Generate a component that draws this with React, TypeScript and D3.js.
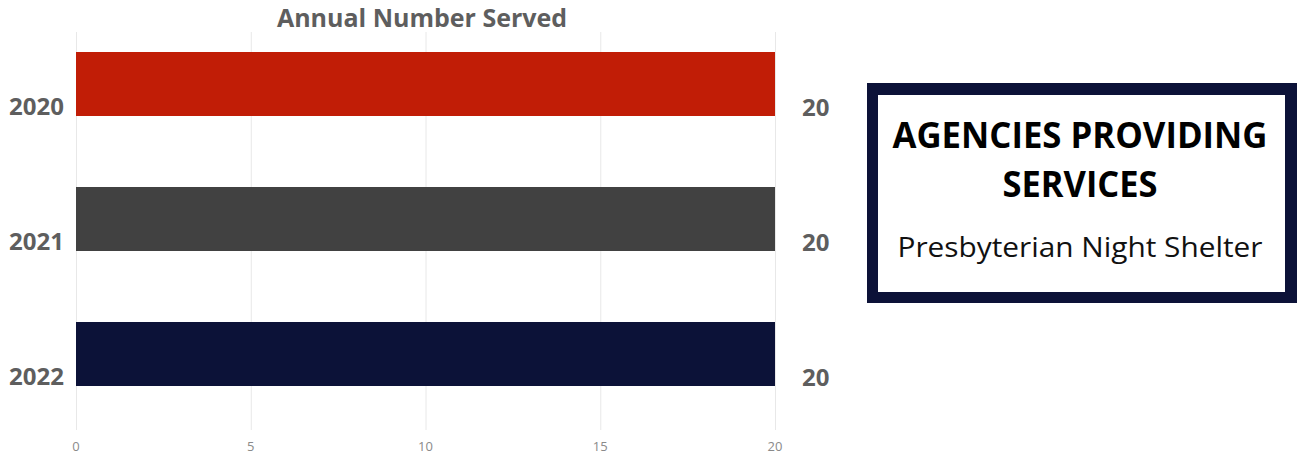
import React from "react";
import * as d3 from "d3";

const years = ["2020", "2021", "2022"];
const values = [20, 20, 20];
const barColors = ["#C11D06", "#414141", "#0C1238"];
const xTicks = [0, 5, 10, 15, 20];
const chartTitle = "Annual Number Served";
const boxTitleLines = ["AGENCIES PROVIDING", "SERVICES"];
const boxAgencies = ["Presbyterian Night Shelter"];

export default function App() {
  const W = 1297, H = 457;
  const x = d3.scaleLinear().domain([0, 20]).range([76, 775]);
  const y = d3.scaleBand().domain(years).range([52, 386]).paddingInner(0.526).paddingOuter(0);
  const font = "'Open Sans', sans-serif";
  const labelColor = "#5e5e5e";
  const titleLens = [375, 155];
  return (
    <svg width={W} height={H} style={{ position: "absolute", left: 0, top: 0, background: "#fff" }}>
      {xTicks.map((t) => (
        <g key={t}>
          <line x1={x(t) + 0.5} x2={x(t) + 0.5} y1={32} y2={430} stroke="#e8e8e8" strokeWidth={1} />
          <text x={x(t)} y={451} textAnchor="middle" fontFamily={font} fontSize={13} fill="#8a8a8a">{t}</text>
        </g>
      ))}
      <text x={422} y={27} textAnchor="middle" fontFamily={font} fontWeight={700} fontSize={25} fill={labelColor}>{chartTitle}</text>
      {years.map((yr, i) => {
        const y0 = y(yr)!;
        const bh = y.bandwidth();
        return (
          <g key={yr}>
            <rect x={x(0)} y={y0} width={x(values[i]) - x(0)} height={bh} fill={barColors[i]} />
            <text x={64} y={y0 + bh - 1} textAnchor="end" fontFamily={font} fontWeight={700} fontSize={24} fill={labelColor}>{yr}</text>
            <text x={802} y={y0 + bh} textAnchor="start" fontFamily={font} fontWeight={700} fontSize={24} fill={labelColor}>{values[i]}</text>
          </g>
        );
      })}
      <rect x={867} y={83} width={430} height={220} fill="#0C1238" />
      <rect x={878} y={95} width={407} height={197} fill="#fff" />
      {boxTitleLines.map((l, i) => (
        <text key={l} x={1080} y={148 + i * 49} textAnchor="middle" fontFamily={font} fontWeight={700} fontSize={35} fill="#000"
          textLength={titleLens[i]} lengthAdjust="spacingAndGlyphs">{l}</text>
      ))}
      {boxAgencies.map((l, i) => (
        <text key={l} x={1080} y={257 + i * 34} textAnchor="middle" fontFamily={font} fontSize={28} fill="#111"
          textLength={365} lengthAdjust="spacingAndGlyphs">{l}</text>
      ))}
    </svg>
  );
}
